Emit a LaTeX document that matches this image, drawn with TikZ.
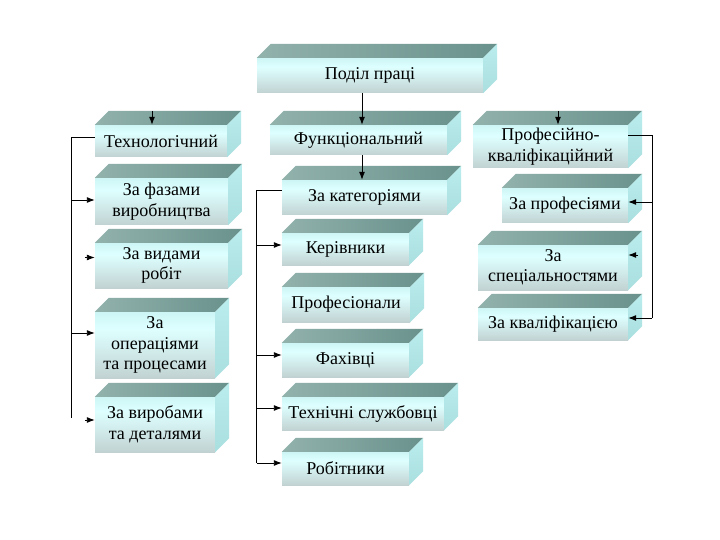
\documentclass[tikz,border=0pt]{standalone}
\usepackage{fontspec}
\setmainfont{Liberation Serif}
\usetikzlibrary{arrows.meta}
\definecolor{ftop}{HTML}{AEE2E2}
\definecolor{fmid}{HTML}{DEFFFF}
\definecolor{fbot2}{HTML}{C4D6D6}
\definecolor{fbot}{HTML}{A8A8A8}
\definecolor{stopc}{HTML}{C2F4F4}
\definecolor{sbot}{HTML}{A2D8D8}
\definecolor{tl}{HTML}{92B2AC}
\definecolor{tr}{HTML}{6A928D}
\pgfdeclareverticalshading{frontsh}{100bp}{color(0bp)=(fbot); color(28bp)=(fbot2); color(62bp)=(fmid); color(100bp)=(ftop)}
\pgfdeclareverticalshading{sidesh}{100bp}{color(0bp)=(sbot); color(100bp)=(stopc)}
\tikzset{
  front/.style={shade, shading=frontsh, inner sep=0pt, align=center,
    font=\fontsize{18}{20.5}\selectfont, text=black},
  topface/.style={left color=tl, right color=tr},
  sideface/.style={shade, shading=sidesh},
  conn/.style={draw=black, line width=0.9pt},
  arr/.style={conn, -{Latex[length=8pt,width=6pt]}}
}
\newcommand{\cuboid}[6]{%
  \node[front, minimum width={(#4-#2)*1pt}, minimum height={(#5-#3)*1pt}] (#1) at ({(#2+#4)/2},{(#3+#5)/2}) {#6};
  \path[topface] (#1.north west) -- ++(14,-14) -- ([shift={(14,-14)}]#1.north east) -- (#1.north east) -- cycle;
  \path[sideface] (#1.north east) -- ++(14,-14) -- ([shift={(14,-14)}]#1.south east) -- (#1.south east) -- cycle;
}
\begin{document}
\begin{tikzpicture}[x=1pt,y=-1pt]
\fill[white] (0,0) rectangle (720,540);
\useasboundingbox (0,0) rectangle (720,540);
% boxes
\cuboid{root}{257}{58}{483}{93}{Поділ праці}
\cuboid{tech}{95}{125}{227}{157}{Технологічний}
\cuboid{faz}{95}{178}{228}{225}{За фазами\\виробництва}
\cuboid{vyd}{95}{243}{228}{288}{За видами\\робіт}
\cuboid{oper}{95}{312}{215}{378}{За\\операціями\\та процесами}
\cuboid{vyrob}{95}{397}{215}{452}{За виробами\\та деталями}
\cuboid{funk}{270}{125}{447}{155}{Функціональний}
\cuboid{kat}{282}{180}{447}{215}{За категоріями}
\cuboid{ker}{282}{233}{409}{265}{Керівники}
\cuboid{prof}{282}{287}{410}{322}{Професіонали}
\cuboid{fakh}{282}{343}{409}{377}{Фахівці}
\cuboid{sluzh}{282}{397}{444}{430}{Технічні службовці}
\cuboid{robit}{282}{452}{409}{485}{Робітники}
\cuboid{pk}{473}{125}{628}{168}{Професійно-\\кваліфікаційний}
\cuboid{zprof}{502}{188}{628}{223}{За професіями}
\cuboid{spec}{478}{245}{628}{290}{За\\спеціальностями}
\cuboid{kval}{478}{308}{628}{340}{За кваліфікацією}
% top arrows
\coordinate (a1) at ([xshift=-8pt]root.south);
\draw[arr] (a1) -- (a1 |- funk.north);
\coordinate (a2) at ([xshift=3.5pt]funk.south);
\draw[arr] (a2) -- (a2 |- kat.north);
\draw[arr] ([xshift=-9pt,yshift=14pt]tech.north) -- ([xshift=-9pt]tech.north);
\draw[arr] ([xshift=7.5pt,yshift=14pt]pk.north) -- ([xshift=7.5pt]pk.north);
% left connector
\coordinate (t0) at ([yshift=4pt]tech.west);
\coordinate (lt) at ([xshift=-23pt]t0);
\coordinate (le) at ([yshift=6.5pt]vyrob.west);
\draw[conn] (t0) -- (lt) -- (lt |- le);
\coordinate (f1) at ([yshift=1.5pt]faz.west);
\draw[arr] (lt |- f1) -- (f1);
\coordinate (o1) at ([yshift=12pt]oper.west);
\draw[arr] (lt |- o1) -- (o1);
\draw[arr] ([xshift=-10pt,yshift=8pt]vyd.west) -- ([yshift=8pt]vyd.west);
\draw[arr] ([xshift=-10pt,yshift=4.5pt]vyrob.west) -- ([yshift=4.5pt]vyrob.west);
% middle connector
\coordinate (k0) at ([yshift=7.5pt]kat.west);
\coordinate (mt) at ([xshift=-25pt]k0);
\coordinate (r1) at ([yshift=5.5pt]robit.west);
\draw[conn] (k0) -- (mt) -- (mt |- r1);
\draw[arr] (mt |- r1) -- (r1);
\coordinate (ke1) at ([yshift=4pt]ker.west);
\draw[arr] (mt |- ke1) -- (ke1);
\coordinate (fa1) at ([yshift=5pt]fakh.west);
\draw[arr] (mt |- fa1) -- (fa1);
\coordinate (s1) at ([yshift=5.5pt]sluzh.west);
\draw[arr] (mt |- s1) -- (s1);
% right connector
\coordinate (p0) at ([yshift=11.5pt]pk.east);
\coordinate (rt) at ([xshift=24pt]p0);
\coordinate (q1) at ([yshift=6pt]kval.east);
\draw[conn] (p0) -- (rt) -- (rt |- q1);
\draw[arr] (rt |- q1) -- (q1);
\coordinate (z1) at ([yshift=3.5pt]zprof.east);
\draw[arr] (rt |- z1) -- (z1);
\draw[arr] ([xshift=10pt,yshift=12.5pt]spec.east) -- ([yshift=12.5pt]spec.east);
\end{tikzpicture}
\end{document}
